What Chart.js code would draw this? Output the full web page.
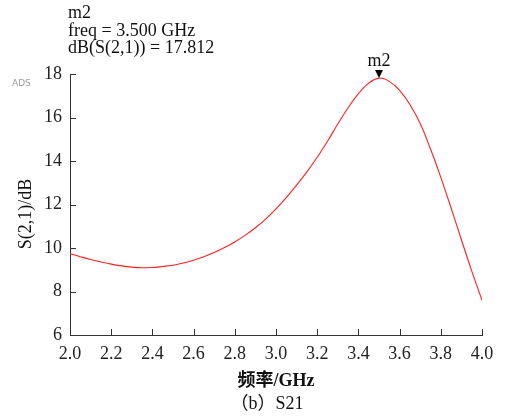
<!DOCTYPE html>
<html>
<head>
<meta charset="utf-8">
<script src="https://cdn.jsdelivr.net/npm/chart.js@4"></script>
<style>
  html, body { margin: 0; padding: 0; background: #fff; }
  #wrap { width: 509px; height: 419px; position: relative; }
</style>
</head>
<body>
<div id="wrap"><canvas id="s21Chart" width="509" height="419"></canvas></div>
<script>
/* --- DATA --- */
const freqGHz = [2.00, 2.05, 2.10, 2.15, 2.20, 2.25, 2.30, 2.35, 2.40, 2.45,
                 2.50, 2.55, 2.60, 2.65, 2.70, 2.75, 2.80, 2.85, 2.90, 2.95,
                 3.00, 3.05, 3.10, 3.15, 3.20, 3.25, 3.30, 3.35, 3.40, 3.45,
                 3.50, 3.55, 3.60, 3.65, 3.70, 3.75, 3.80, 3.85, 3.90, 3.95, 4.00];
const s21dB   = [9.74, 9.60, 9.47, 9.36, 9.26, 9.18, 9.12, 9.09, 9.10, 9.15,
                 9.21, 9.31, 9.44, 9.60, 9.79, 10.02, 10.28, 10.58, 10.93, 11.33,
                 11.80, 12.32, 12.89, 13.50, 14.17, 14.91, 15.70, 16.45, 17.10, 17.58,
                 17.812, 17.66, 17.25, 16.60, 15.72, 14.55, 13.25, 11.84, 10.38, 8.95, 7.60];
const xTicks = [2.0, 2.2, 2.4, 2.6, 2.8, 3.0, 3.2, 3.4, 3.6, 3.8, 4.0];
const yTicks = [6, 8, 10, 12, 14, 16, 18];
const marker = { name: 'm2', freq: 3.500, value: 17.812 };

const SERIF = '"Times New Roman", "Liberation Serif", "Noto Sans CJK SC", serif';
const AXIS_COLOR = '#333';

// inward tick marks, y title, marker, readout text and caption
const decorPlugin = {
    id: 'decor',
    afterDraw(chart) {
        const ctx = chart.ctx;
        const xs = chart.scales.x;
        const ys = chart.scales.y;
        const area = chart.chartArea;

        ctx.save();
        ctx.strokeStyle = AXIS_COLOR;
        ctx.lineWidth = 1;
        ctx.beginPath();
        xTicks.forEach(v => {
            const px = Math.round(xs.getPixelForValue(v)) + 0.5;
            ctx.moveTo(px, area.bottom);
            ctx.lineTo(px, area.bottom - 6);
        });
        yTicks.forEach(v => {
            const py = Math.round(ys.getPixelForValue(v)) + 0.5;
            ctx.moveTo(area.left, py);
            ctx.lineTo(area.left + 6, py);
        });
        ctx.stroke();

        // y axis title (sits a little below the axis centre in the original)
        ctx.save();
        ctx.translate(26, 214);
        ctx.rotate(-Math.PI / 2);
        ctx.font = '18px ' + SERIF;
        ctx.fillStyle = '#111';
        ctx.textAlign = 'center';
        ctx.textBaseline = 'middle';
        ctx.fillText('S(2,1)/dB', 0, 0);
        ctx.restore();

        // marker triangle at the peak
        const mx = xs.getPixelForValue(marker.freq);
        const my = ys.getPixelForValue(marker.value);
        ctx.fillStyle = '#000';
        ctx.beginPath();
        ctx.moveTo(mx, my);
        ctx.lineTo(mx - 4, my - 8);
        ctx.lineTo(mx + 4, my - 8);
        ctx.closePath();
        ctx.fill();

        ctx.font = '18px ' + SERIF;
        ctx.textAlign = 'center';
        ctx.textBaseline = 'alphabetic';
        ctx.fillStyle = '#111';
        ctx.fillText(marker.name, mx, my - 12);

        // marker readout
        ctx.textAlign = 'left';
        ctx.textBaseline = 'middle';
        ctx.fillText(marker.name, 68, 13);
        ctx.fillText('freq = ' + marker.freq.toFixed(3) + ' GHz', 68, 31);
        ctx.fillText('dB(S(2,1)) = ' + marker.value.toFixed(3), 68, 48);

        ctx.font = '9px "DejaVu Sans", sans-serif';
        ctx.fillStyle = '#9a9a9a';
        ctx.fillText('ADS', 12, 84);

        // caption
        ctx.font = '18px ' + SERIF;
        ctx.fillStyle = '#111';
        ctx.textAlign = 'center';
        ctx.fillText('（b）S21', 267, 404);
        ctx.restore();
    }
};

new Chart(document.getElementById('s21Chart').getContext('2d'), {
    type: 'line',
    data: {
        datasets: [{
            label: 'dB(S(2,1))',
            data: freqGHz.map((f, i) => ({ x: f, y: s21dB[i] })),
            borderColor: '#ff2020',
            borderWidth: 1.1,
            pointRadius: 0,
            fill: false,
            tension: 0.4
        }]
    },
    options: {
        responsive: false,
        animation: false,
        layout: { padding: { left: 0, right: 27, top: 74, bottom: 22 } },
        plugins: {
            legend: { display: false },
            tooltip: { enabled: false }
        },
        scales: {
            x: {
                type: 'linear',
                min: 2, max: 4,
                afterFit: s => { s.height = 62; },
                afterBuildTicks: s => { s.ticks = xTicks.map(v => ({ value: v })); },
                grid: { display: false, drawTicks: false },
                border: { display: true, color: AXIS_COLOR, width: 1 },
                ticks: {
                    color: '#222',
                    padding: 8,
                    maxRotation: 0,
                    font: { family: SERIF, size: 18 },
                    callback: v => v.toFixed(1)
                },
                title: {
                    display: true,
                    text: '频率/GHz',
                    color: '#111',
                    font: { family: SERIF, size: 18, weight: 'bold' },
                    padding: { top: 4, bottom: 5 }
                }
            },
            y: {
                min: 6, max: 18,
                afterFit: s => { s.width = 70; },
                afterBuildTicks: s => { s.ticks = yTicks.map(v => ({ value: v })); },
                grid: { display: false, drawTicks: false },
                border: { display: true, color: AXIS_COLOR, width: 1 },
                ticks: {
                    color: '#222',
                    padding: 8,
                    font: { family: SERIF, size: 18 }
                }
            }
        }
    },
    plugins: [decorPlugin]
});
</script>
</body>
</html>
